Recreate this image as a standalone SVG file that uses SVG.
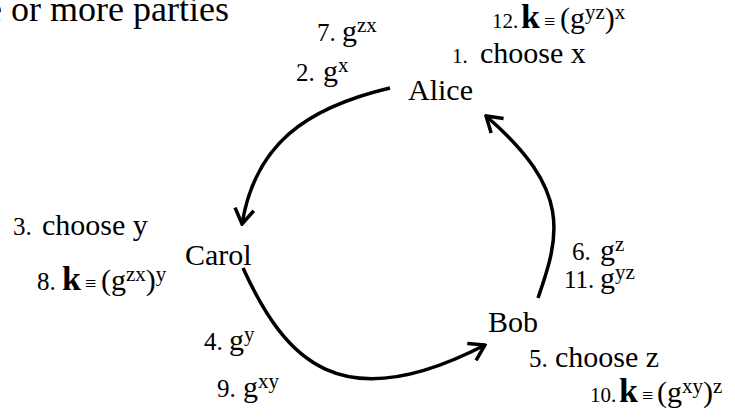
<svg xmlns="http://www.w3.org/2000/svg" width="735" height="417" viewBox="0 0 735 417">
<style>
text{font-family:"Liberation Serif","Times New Roman",serif;fill:#000;font-size:30px}
.n{font-size:25px}
.m{font-size:21px}
.s{font-size:21px}
.k{font-size:34px;font-weight:bold}
.eq{font-size:20px}
.title{font-size:36px}
.c{fill:none;stroke:#000;stroke-width:3.5;marker-end:url(#ah)}
</style>
<defs>
<marker id="ah" markerUnits="userSpaceOnUse" viewBox="-18 -12 20 24" refX="0" refY="0" markerWidth="20" markerHeight="24" orient="auto">
<path d="M-15,-9.5 L0,0 L-15,9.5" fill="none" stroke="#000" stroke-width="3.5" stroke-linejoin="miter"/>
</marker>
</defs>
<rect width="735" height="417" fill="#fff"/>
<text class="title" x="-14" y="21">e or more parties</text>
<g id="connectors">
<path id="alice-carol" class="c" d="M390,88 C305,108 255,145 242,224"/>
<path id="carol-bob" class="c" d="M243,268 C285,360 340,420 485,345"/>
<path id="bob-alice" class="c" d="M538,298 C560,235 572,190 486,116"/>
<text y="41"><tspan class="n" x="317">7.</tspan><tspan x="342">g</tspan><tspan class="s" dy="-9">zx</tspan></text>
<text y="81"><tspan class="n" x="296">2.</tspan><tspan x="323">g</tspan><tspan class="s" dy="-9">x</tspan></text>
<text y="350"><tspan class="n" x="204">4.</tspan><tspan x="229">g</tspan><tspan class="s" dy="-9">y</tspan></text>
<text y="397"><tspan class="n" x="217">9.</tspan><tspan x="243">g</tspan><tspan class="s" dy="-9">xy</tspan></text>
<text y="260"><tspan class="n" x="572">6.</tspan><tspan x="600">g</tspan><tspan class="s" dy="-9">z</tspan></text>
<text y="288"><tspan class="n" x="564">11.</tspan><tspan x="600">g</tspan><tspan class="s" dy="-9">yz</tspan></text>
</g>
<g id="alice">
<text x="408" y="100">Alice</text>
<text y="63"><tspan class="m" x="452">1.</tspan><tspan x="480">choose x</tspan></text>
<text y="28"><tspan class="m" x="492">12.</tspan><tspan class="k" x="521">k</tspan><tspan class="eq" x="544">≡</tspan><tspan x="560">(g</tspan><tspan class="s" dy="-9">yz</tspan><tspan dy="9">)</tspan><tspan class="s" dy="-9">x</tspan></text>
</g>
<g id="carol">
<text x="185" y="265">Carol</text>
<text y="235"><tspan class="n" x="13">3.</tspan><tspan x="42">choose y</tspan></text>
<text y="290"><tspan class="n" x="37">8.</tspan><tspan class="k" x="62">k</tspan><tspan class="eq" x="85">≡</tspan><tspan x="101">(g</tspan><tspan class="s" dy="-9">zx</tspan><tspan dy="9">)</tspan><tspan class="s" dy="-9">y</tspan></text>
</g>
<g id="bob">
<text x="488" y="332">Bob</text>
<text y="367"><tspan class="n" x="529">5.</tspan><tspan x="555">choose z</tspan></text>
<text y="402"><tspan class="m" x="590">10.</tspan><tspan class="k" x="619">k</tspan><tspan class="eq" x="642">≡</tspan><tspan x="657">(g</tspan><tspan class="s" dy="-9">xy</tspan><tspan dy="9">)</tspan><tspan class="s" dy="-9">z</tspan></text>
</g>
</svg>
